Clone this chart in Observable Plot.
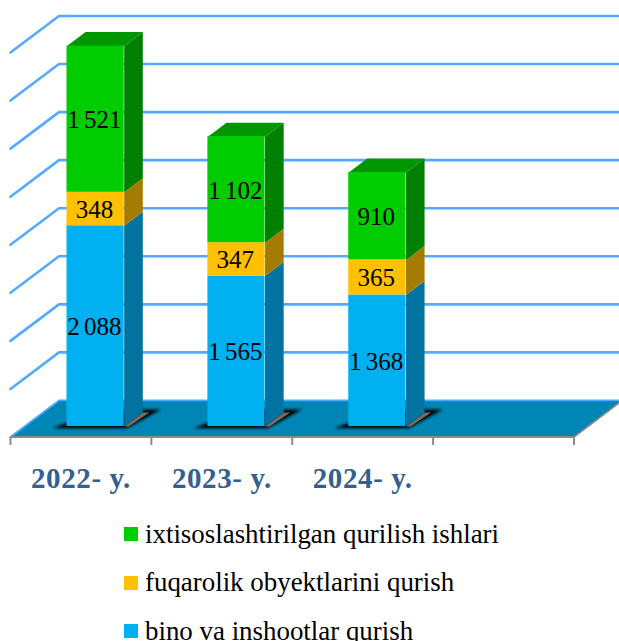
<!DOCTYPE html>
<html><head><meta charset="utf-8">
<script src="https://cdn.jsdelivr.net/npm/d3@7"></script>
<script src="https://cdn.jsdelivr.net/npm/@observablehq/plot@0.6"></script>
<style>
html,body{margin:0;padding:0;background:#fff;width:619px;height:641px;overflow:hidden}
#legend{padding-top:10px;font-family:"Liberation Serif",serif;color:#000}
.row{display:flex;align-items:center;height:48.5px;padding-left:124px;font-size:26.9px;white-space:nowrap}
.sw{width:14px;height:14px;margin-right:7px;flex:none}
svg{display:block}
</style></head><body>
<div id="chart"></div><div id="legend"></div>
<script>
const years = ["2022- y.", "2023- y.", "2024- y."];
const bino = [2088, 1565, 1368];
const fuqarolik = [348, 347, 365];
const ixtisos = [1521, 1102, 910];
const gridTicks = [500, 1000, 1500, 2000, 2500, 3000, 3500, 4000];
const slotTicks = [0, 1, 2, 3, 4];
const seriesNames = ["ixtisoslashtirilgan qurilish ishlari", "fuqarolik obyektlarini qurish", "bino va inshootlar qurish"];

// oblique projection: depth z (0 front, 1 back) shifts in data units
const DX = 0.344, DY = 380;
const zF = 0.288, zB = 0.672, barL = 0.302, barR = 0.708;
const P = (x, v, z) => ({x: x + z * DX, y: v + z * DY});

const series = [
  {name: seriesNames[2], values: bino, front: "#00B0F0", side: "#0073A0"},
  {name: seriesNames[1], values: fuqarolik, front: "#FFC000", side: "#A67C00"},
  {name: seriesNames[0], values: ixtisos, front: "#00CC00", side: "#008000", top: "#009600"}
];

const rects = [], faces = [], labels = [], shadows = [], strips = [];
years.forEach((yr, i) => {
  let base = 0;
  const xl = i + barL, xr = i + barR;
  series.forEach((s, k) => {
    const v0 = base, v1 = base + s.values[i];
    base = v1;
    const f0 = P(xl, v0, zF), f1 = P(xr, v1, zF);
    rects.push({x1: f0.x, x2: f1.x, y1: f0.y, y2: f1.y, fill: s.front});
    labels.push({x: (f0.x + f1.x) / 2 - 0.008, y: (f0.y + f1.y) / 2, text: d3.format(",")(s.values[i]).replace(",", " ")});
    const id = `${i}-${k}`;
    [P(xr, v0, zF), P(xr, v1, zF), P(xr, v1, zB), P(xr, v0, zB)]
      .forEach(p => faces.push({...p, id: "s" + id, fill: s.side}));
    if (s.top) [P(xl, v1, zF), P(xr, v1, zF), P(xr, v1, zB), P(xl, v1, zB)]
      .forEach(p => faces.push({...p, id: "t" + id, fill: s.top}));
  });
  [P(i + 0.215, 0, 0.24), P(i + 0.745, 0, 0.24), P(i + 0.81, 0, 0.75), P(i + 0.40, 0, 0.75)]
    .forEach(p => shadows.push({...p, id: i}));
  [P(xr, 0, zF), P(i + 0.74, 0, zF), P(i + 0.755, 0, zB), P(xr, 0, zB)]
    .forEach(p => strips.push({...p, id: i}));
});

const floor = [P(0, 0, 0), P(4, 0, 0), P(4, 0, 1), P(0, 0, 1)];
const grid = gridTicks.flatMap(v => [P(0, v, 0), P(0, v, 1), P(4, v, 1)].map(p => ({...p, id: v})));
const floorEdge = [P(0, 0, 0), P(0, 0, 1), P(4, 0, 1)];
const rightEdge = [P(4, 0, 0), P(4, 0, 1)];
const blurred = r => (index, scales, values, dims, ctx, next) => {
  const g = next(index, scales, values, dims, ctx);
  g.style.filter = `blur(${r}px)`;
  return g;
};
const textStyled = st => (index, scales, values, dims, ctx, next) => {
  const g = next(index, scales, values, dims, ctx);
  Object.assign(g.style, st);
  return g;
};

const chart = Plot.plot({
  width: 619, height: 500,
  marginTop: 0, marginLeft: 10, marginRight: 45.5, marginBottom: 63,
  style: {fontFamily: '"Liberation Serif", serif', background: "transparent", overflow: "hidden"},
  x: {type: "linear", domain: [0, 4], range: [10, 573.5], axis: null},
  y: {type: "linear", domain: [0, 4000], range: [436.5, 52], axis: null},
  marks: [
    Plot.line(grid, {x: "x", y: "y", z: "id", stroke: "#55A9FF", strokeWidth: 2.6}),
    Plot.line(floor, {x: "x", y: "y", fill: "#0086B5", stroke: "none"}),
    Plot.line(floorEdge, {x: "x", y: "y", stroke: "#4DA6FF", strokeWidth: 1.8}),
    Plot.line(rightEdge, {x: "x", y: "y", stroke: "#8a8a8a", strokeWidth: 1.6}),
    Plot.ruleY([0], {x1: 0, x2: 4, stroke: "#8a8a8a", strokeWidth: 2}),
    Plot.axisX(slotTicks, {tickSize: 8, tickFormat: () => "", stroke: "#8a8a8a", strokeWidth: 2}),
    Plot.line(shadows, {x: "x", y: "y", z: "id", fill: "#000", stroke: "none", render: blurred(1.5)}),
    Plot.line(strips, {x: "x", y: "y", z: "id", fill: "#7a6a60", stroke: "none", render: blurred(0.5)}),
    Plot.line(faces, {x: "x", y: "y", z: "id", fill: {value: "fill", scale: null}, stroke: "none"}),
    Plot.rect(rects, {x1: "x1", x2: "x2", y1: "y1", y2: "y2", fill: {value: "fill", scale: null}}),
    Plot.text(labels, {x: "x", y: "y", dy: 1, text: "text", fontSize: 25, fill: "#000", render: textStyled({wordSpacing: "-2px"})}),
    Plot.text(years, {x: (d, i) => i + 0.5, frameAnchor: "bottom", dy: 50, text: d => d,
      fontSize: 29, fontWeight: "bold", fill: "#34608F", textAnchor: "middle", render: textStyled({letterSpacing: "0.6px"})})
  ]
});
document.getElementById("chart").append(chart);
document.getElementById("legend").innerHTML = [series[2], series[1], series[0]]
  .map(s => `<div class="row"><span class="sw" style="background:${s.front}"></span><span>${s.name}</span></div>`).join("");
</script>
</body></html>
